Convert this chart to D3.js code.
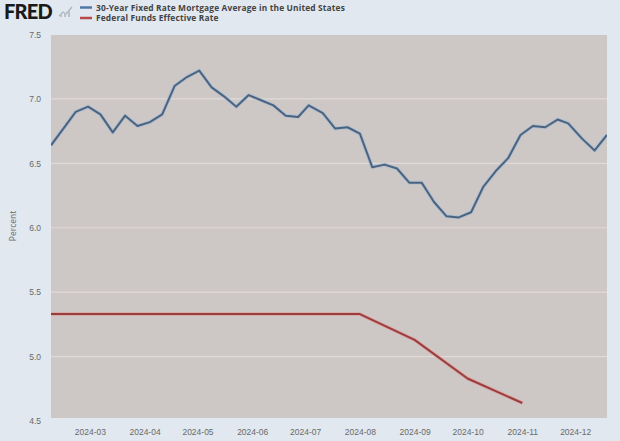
<!DOCTYPE html>
<html><head><meta charset="utf-8">
<script src="https://cdn.jsdelivr.net/npm/d3@7"></script>
<style>
html,body{margin:0;padding:0;background:#e1e8ef;}
svg{display:block;font-family:"Open Sans","DejaVu Sans",sans-serif;}
</style></head>
<body>
<script>
const mortgageDates = ["2024-02-08","2024-02-15","2024-02-22","2024-02-29","2024-03-07","2024-03-14","2024-03-21","2024-03-28","2024-04-04","2024-04-11","2024-04-18","2024-04-25","2024-05-02","2024-05-09","2024-05-16","2024-05-23","2024-05-30","2024-06-06","2024-06-13","2024-06-20","2024-06-27","2024-07-03","2024-07-11","2024-07-18","2024-07-25","2024-08-01","2024-08-08","2024-08-15","2024-08-22","2024-08-29","2024-09-05","2024-09-12","2024-09-19","2024-09-26","2024-10-03","2024-10-10","2024-10-17","2024-10-24","2024-10-31","2024-11-07","2024-11-14","2024-11-21","2024-11-27","2024-12-05","2024-12-12","2024-12-19"];
const mortgageValues = [6.64,6.77,6.90,6.94,6.88,6.74,6.87,6.79,6.82,6.88,7.10,7.17,7.22,7.09,7.02,6.94,7.03,6.99,6.95,6.87,6.86,6.95,6.89,6.77,6.78,6.73,6.47,6.49,6.46,6.35,6.35,6.20,6.09,6.08,6.12,6.32,6.44,6.54,6.72,6.79,6.78,6.84,6.81,6.69,6.60,6.72];
const fedDates = ["2024-02-01","2024-03-01","2024-04-01","2024-05-01","2024-06-01","2024-07-01","2024-08-01","2024-09-01","2024-10-01","2024-11-01"];
const fedValues = [5.33,5.33,5.33,5.33,5.33,5.33,5.33,5.13,4.83,4.64];
const yTicks = [4.5,5.0,5.5,6.0,6.5,7.0,7.5];
const xTickDates = ["2024-03-01","2024-04-01","2024-05-01","2024-06-01","2024-07-01","2024-08-01","2024-09-01","2024-10-01","2024-11-01","2024-12-01"];
const seriesNames = ["30-Year Fixed Rate Mortgage Average in the United States","Federal Funds Effective Rate"];

const W=620,H=441;
const parse=d3.utcParse("%Y-%m-%d");
const svg=d3.select("body").append("svg").attr("width",W).attr("height",H);
const plot={l:51,r:607,t:35,b:418};
const x=d3.scaleUtc().domain([parse("2024-02-08"),parse("2024-12-19")]).range([plot.l,plot.r]);
const y=d3.scaleLinear().domain([4.5,7.5]).range([421,34.5]);

svg.append("rect").attr("x",plot.l).attr("y",plot.t).attr("width",plot.r-plot.l).attr("height",plot.b-plot.t).attr("fill","#cdc7c6");
svg.append("defs").append("clipPath").attr("id","clip").append("rect").attr("x",plot.l).attr("y",plot.t).attr("width",plot.r-plot.l).attr("height",plot.b-plot.t);

// grid
svg.append("g").selectAll("line").data(yTicks.filter(v=>v>4.5&&v<7.5)).join("line")
 .attr("x1",plot.l).attr("x2",plot.r).attr("y1",d=>y(d)).attr("y2",d=>y(d))
 .attr("stroke","#e0dad8").attr("stroke-width",1.2);

// y axis
const ya=svg.append("g").attr("transform",`translate(${plot.l},0)`).call(d3.axisLeft(y).tickValues(yTicks).tickFormat(d3.format(".1f")).tickSize(0).tickPadding(10));
ya.select(".domain").remove();
ya.selectAll("text").attr("fill","#6a6a6a").attr("font-size",8.5);
svg.append("text").attr("transform","translate(16,226) rotate(-90)").attr("text-anchor","middle").attr("fill","#6a6a6a").attr("font-size",8.5).text("Percent");

// x axis
const xa=svg.append("g").attr("transform",`translate(0,${plot.b})`).call(d3.axisBottom(x).tickValues(xTickDates.map(parse)).tickFormat(d3.utcFormat("%Y-%m")).tickSize(0).tickPadding(11));
xa.select(".domain").remove();
xa.selectAll("text").attr("fill","#6a6a6a").attr("font-size",8.5);

const line=d3.line().x(d=>x(d[0])).y(d=>y(d[1]));
const mData=mortgageDates.map((d,i)=>[parse(d),mortgageValues[i]]);
const fData=fedDates.map((d,i)=>[parse(d),fedValues[i]]);
const g=svg.append("g").attr("clip-path","url(#clip)");
g.append("path").datum(fData).attr("d",line).attr("fill","none").attr("stroke","#dea3a2").attr("stroke-width",3.6).attr("stroke-linejoin","round");
g.append("path").datum(fData).attr("d",line).attr("fill","none").attr("stroke","#983f3e").attr("stroke-width",2).attr("stroke-linejoin","round");
g.append("path").datum(mData).attr("d",line).attr("fill","none").attr("stroke","#b0bfcf").attr("stroke-width",3.8).attr("stroke-linejoin","round");
g.append("path").datum(mData).attr("d",line).attr("fill","none").attr("stroke","#4c6380").attr("stroke-width",2).attr("stroke-linejoin","round");

// header: FRED logo + legend
svg.append("text").attr("x",4).attr("y",19).attr("font-family","Lato, 'DejaVu Sans', sans-serif").attr("font-weight",900).attr("font-size",20).attr("fill","#1a1a1a").attr("letter-spacing",-0.8).text("FRED");
const icon=svg.append("g").attr("transform","translate(58,6)");
icon.append("path").attr("d","M1,10 L5,6 L8,8 L14,1").attr("fill","none").attr("stroke","#a9b5c2").attr("stroke-width",1.2);
icon.append("rect").attr("x",2).attr("y",8).attr("width",2).attr("height",3).attr("fill","#b8c2cc");
icon.append("rect").attr("x",6).attr("y",7).attr("width",2).attr("height",4).attr("fill","#b8c2cc");
icon.append("rect").attr("x",10).attr("y",5).attr("width",2).attr("height",6).attr("fill","#b8c2cc");
const legColors=["#4f78a8","#b84a47"];
const leg=svg.append("g").selectAll("g").data(seriesNames).join("g").attr("transform",(d,i)=>`translate(80,${7.5+i*10.5})`);
leg.append("line").attr("x1",0).attr("x2",12).attr("y1",0).attr("y2",0).attr("stroke",(d,i)=>legColors[i]).attr("stroke-width",2.5);
leg.append("text").attr("x",16).attr("y",3).attr("font-size",8.4).attr("font-weight",700).attr("letter-spacing",0.15).attr("fill","#444").text(d=>d);
</script>
</body></html>
